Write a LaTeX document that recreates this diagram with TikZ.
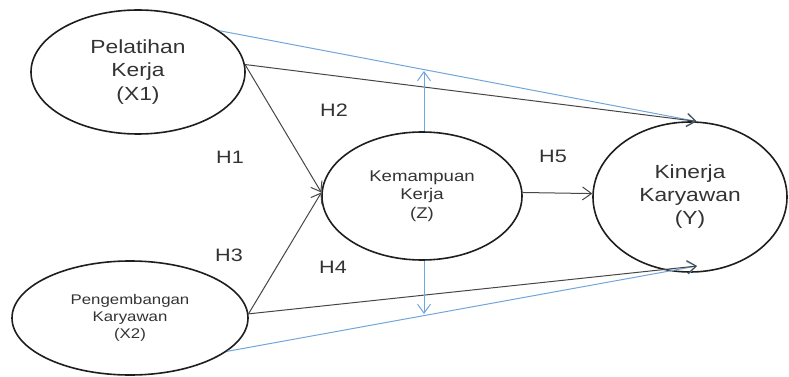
\documentclass[tikz,border=0pt]{standalone}
\usepackage{fontspec}
\setmainfont{Liberation Sans}[FakeStretch=1.2]
\usetikzlibrary{shapes.geometric,arrows.meta}
\definecolor{lineblue}{RGB}{112,166,220}
\definecolor{linegray}{RGB}{70,70,70}
\definecolor{ringcol}{RGB}{30,30,30}
\tikzset{
  construct/.style={ellipse, draw=ringcol, line width=1.6pt, inner sep=0pt, align=center, text=black!80},
  hyp/.style={inner sep=0pt, font=\fontsize{18}{20}\selectfont, text=black!80},
  path/.style={draw=linegray, line width=1pt, -{Straight Barb[length=9pt,width=13pt,line width=1pt]}},
  bluepath/.style={draw=lineblue, line width=1pt, -{Straight Barb[length=9pt,width=13pt,line width=1pt]}},
}
\begin{document}
\begin{tikzpicture}[x=1pt,y=-1pt]
\useasboundingbox (0,0) rectangle (789,377);
\node[construct, minimum width=214pt, minimum height=124pt, font=\fontsize{19}{23.5}\selectfont] (X1) at (138,72) {Pelatihan\\Kerja\\(X1)};
\node[construct, minimum width=236pt, minimum height=114pt, font=\fontsize{14}{17}\selectfont] (X2) at (130,318) {Pengembangan\\Karyawan\\(X2)};
\node[construct, minimum width=200pt, minimum height=128pt, font=\fontsize{15.5}{18.5}\selectfont] (Z) at (422,196) {Kemampuan\\Kerja\\(Z)};
\node[construct, minimum width=194pt, minimum height=150pt, font=\fontsize{19}{23}\selectfont] (Y) at (690,197) {Kinerja\\Karyawan\\(Y)};

\coordinate (ybot) at (697,266);
\coordinate (zup) at (424,71);
\coordinate (zdown) at (424,314);

% blue lines
\draw[bluepath] (X1.27) -- (Y.85);
\draw[bluepath] (X2.-19) -- (ybot);
% black paths
\draw[path] (X1.4) -- (Y.85);
\draw[path] (X1.4) -- (Z.178);
\draw[path] (X2.2) -- (Z.178);
\draw[path] (X2.2) -- (ybot);
\draw[path] (Z.2) -- (Y.178);
% moderation arrows
\draw[bluepath] (Z.north) ++(2,0) coordinate (zt) (zt) -- (zup);
\draw[bluepath] (Z.south) ++(2,0) coordinate (zb) (zb) -- (zdown);

\node[hyp] (H1) at (230,157) {H1};
\node[hyp] (H2) at (334,110) {H2};
\node[hyp] (H3) at (229,255) {H3};
\node[hyp] (H4) at (333,267) {H4};
\node[hyp] (H5) at (553,156) {H5};
\end{tikzpicture}
\end{document}
